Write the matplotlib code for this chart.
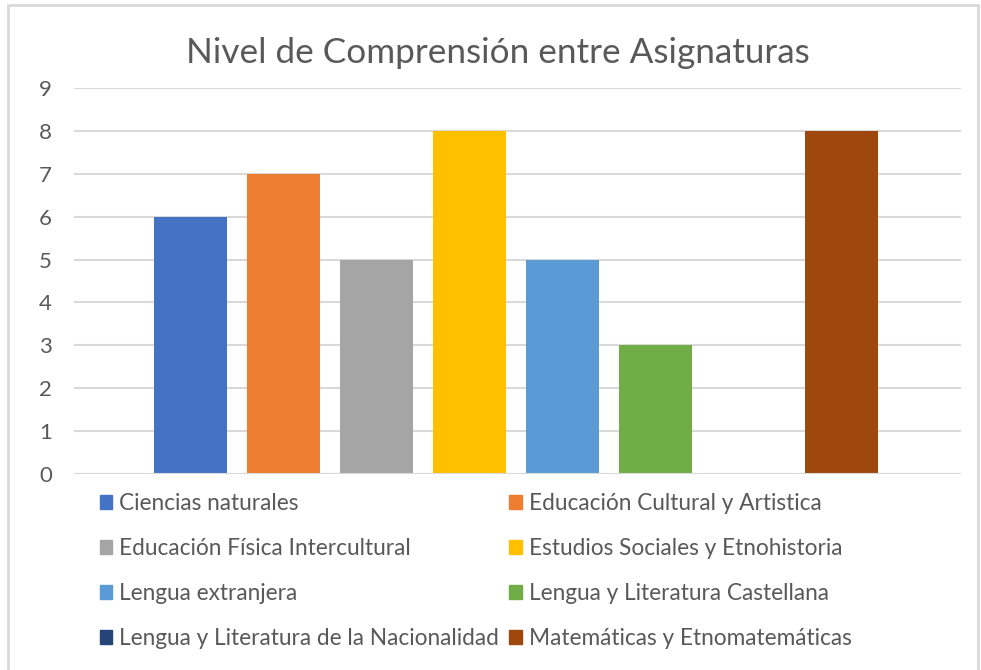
import matplotlib.pyplot as plt
from matplotlib.patches import Patch, Rectangle

titulo = "Nivel de Comprensión entre Asignaturas"
asignaturas = [
    "Ciencias naturales",
    "Educación Cultural y Artistica",
    "Educación Física Intercultural",
    "Estudios Sociales y Etnohistoria",
    "Lengua extranjera",
    "Lengua y Literatura Castellana",
    "Lengua y Literatura de la Nacionalidad",
    "Matemáticas y Etnomatemáticas",
]
valores = [6, 7, 5, 8, 5, 3, 0, 8]
colores = ["#4472C4", "#ED7D31", "#A5A5A5", "#FFC000",
           "#5B9BD5", "#70AD47", "#264478", "#9E480E"]
yticks = list(range(0, 10))

plt.rcParams['font.family'] = ['Lato', 'DejaVu Sans']
gris = "#595959"

fig = plt.figure(figsize=(9.81, 6.70), dpi=100)
ax = fig.add_axes([74 / 981, 1 - 474 / 670, 887 / 981, 386 / 670])

for i, (v, c, lab) in enumerate(zip(valores, colores, asignaturas)):
    ax.bar(i, v, width=0.785, color=c, label=lab, zorder=3)

ax.set_xlim(-1.253, 8.285)
ax.set_ylim(0, 9)
ax.set_yticks(yticks)
ax.set_xticks([])
ax.tick_params(axis='y', length=0, pad=16, labelsize=16, labelcolor=gris)
for s in ax.spines.values():
    s.set_visible(False)
ax.grid(axis='y', color="#d9d9d9", linewidth=1.5, zorder=0)
ax.axhline(0, color="#d9d9d9", linewidth=1.5, zorder=4)

fig.text(0.508, 1 - 53 / 670, titulo, ha='center', va='center',
         fontsize=25.3, color=gris)

# legend filled row by row
handles = [Patch(color=c) for c in colores]
orden = [0, 2, 4, 6, 1, 3, 5, 7]
leg = fig.legend([handles[k] for k in orden], [asignaturas[k] for k in orden],
                 ncol=2, loc='upper left', bbox_to_anchor=(100 / 981, 1 - 493 / 670),
                 frameon=False, fontsize=16.3, handlelength=0.55, handleheight=0.55,
                 handletextpad=0.3, labelspacing=1.06, columnspacing=0.45,
                 borderaxespad=0, borderpad=0)
for t in leg.get_texts():
    t.set_color(gris)

# chart border
fig.patches.append(Rectangle((8 / 981, -0.01), 970 / 981, 1 - 5 / 670 + 0.01,
                             transform=fig.transFigure, fill=False,
                             edgecolor="#d9d9d9", linewidth=2))

fig.savefig("out.png", dpi=100)
